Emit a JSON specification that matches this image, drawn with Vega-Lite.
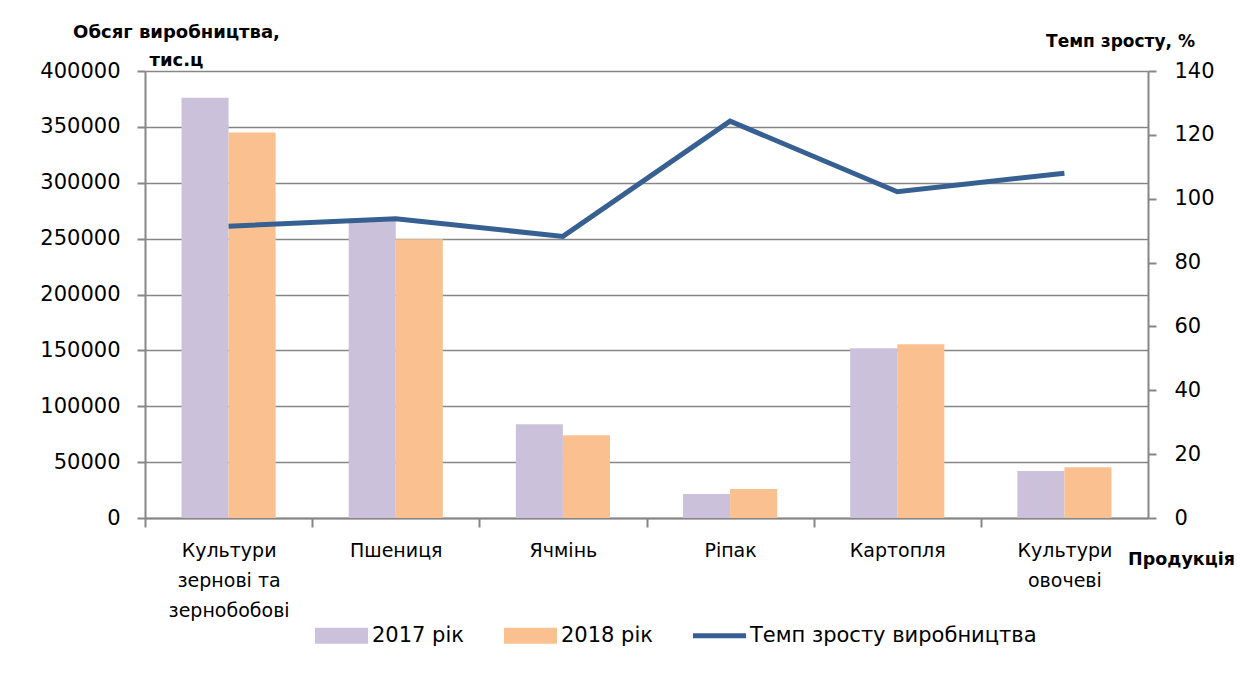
{
  "$schema": "https://vega.github.io/schema/vega-lite/v6.json",
  "width": 1003,
  "height": 447,
  "autosize": {"type": "none"},
  "padding": {"left": 145, "top": 71, "right": 102, "bottom": 159},
  "background": "white",
  "config": {
    "view": {"stroke": null},
    "font": "DejaVu Sans",
    "axis": {
      "domainColor": "#868686",
      "domainWidth": 2,
      "tickColor": "#868686",
      "tickWidth": 2,
      "gridColor": "#868686",
      "gridWidth": 1.5,
      "labelColor": "#000000",
      "titleColor": "#000000",
      "labelFont": "DejaVu Sans",
      "titleFont": "DejaVu Sans"
    }
  },
  "datasets": {
    "prod": [
      {"cat": "Культури зернові та зернобобові", "year": "2017 рік", "value": 376000},
      {"cat": "Культури зернові та зернобобові", "year": "2018 рік", "value": 345000},
      {"cat": "Пшениця", "year": "2017 рік", "value": 266000},
      {"cat": "Пшениця", "year": "2018 рік", "value": 249500},
      {"cat": "Ячмінь", "year": "2017 рік", "value": 84000},
      {"cat": "Ячмінь", "year": "2018 рік", "value": 74000},
      {"cat": "Ріпак", "year": "2017 рік", "value": 21500},
      {"cat": "Ріпак", "year": "2018 рік", "value": 26000},
      {"cat": "Картопля", "year": "2017 рік", "value": 152000},
      {"cat": "Картопля", "year": "2018 рік", "value": 155500},
      {"cat": "Культури овочеві", "year": "2017 рік", "value": 42000},
      {"cat": "Культури овочеві", "year": "2018 рік", "value": 45500}
    ],
    "rate": [
      {"cat": "Культури зернові та зернобобові", "rate": 91.4},
      {"cat": "Пшениця", "rate": 93.7},
      {"cat": "Ячмінь", "rate": 88.2},
      {"cat": "Ріпак", "rate": 124.3},
      {"cat": "Картопля", "rate": 102.2},
      {"cat": "Культури овочеві", "rate": 108.0}
    ]
  },
  "layer": [
    {
      "data": {"name": "prod"},
      "mark": {"type": "bar"},
      "encoding": {
        "x": {
          "field": "cat",
          "type": "nominal",
          "sort": null,
          "scale": {"paddingInner": 0.437, "paddingOuter": 0.2185},
          "axis": {
            "labelAngle": 0,
            "labelFontSize": 19,
            "labelBaseline": "top",
            "labelLineHeight": 30,
            "labelPadding": 14,
            "tickSize": 9,
            "bandPosition": 0,
            "tickOffset": -36.5,
            "labelOffset": 36.5,
            "labelExpr": "datum.label == 'Культури зернові та зернобобові' ? ['Культури', 'зернові та', 'зернобобові'] : datum.label == 'Культури овочеві' ? ['Культури', 'овочеві'] : datum.label",
            "title": "Продукція",
            "titleFontSize": 17.5,
            "titleFontWeight": "bold",
            "titleAlign": "center",
            "titleBaseline": "alphabetic",
            "titleX": 1036,
            "titleY": 46
          }
        },
        "xOffset": {
          "field": "year",
          "type": "nominal",
          "scale": {"paddingInner": 0, "paddingOuter": 0}
        },
        "y": {
          "field": "value",
          "type": "quantitative",
          "scale": {"domain": [0, 400000], "nice": false},
          "axis": {
            "values": [0, 50000, 100000, 150000, 200000, 250000, 300000, 350000, 400000],
            "format": "d",
            "grid": true,
            "labelFontSize": 21,
            "labelPadding": 17,
            "tickSize": 8,
            "title": ["Обсяг виробництва,", "тис.ц"],
            "titleAngle": 0,
            "titleFontSize": 18,
            "titleFontWeight": "bold",
            "titleAlign": "center",
            "titleBaseline": "alphabetic",
            "titleLineHeight": 28,
            "titleX": 31,
            "titleY": -34
          }
        },
        "color": {
          "field": "year",
          "type": "nominal",
          "scale": {
            "domain": ["2017 рік", "2018 рік", "Темп зросту виробництва"],
            "range": ["#CCC1DA", "#FAC090", "#376092"]
          },
          "legend": {
            "orient": "none",
            "legendX": 170,
            "legendY": 538,
            "direction": "horizontal",
            "title": null,
            "padding": 0,
            "labelFont": "DejaVu Sans",
            "labelFontSize": 21,
            "labelColor": "#000000",
            "labelOffset": 4,
            "labelLimit": 400,
            "columnPadding": 40,
            "symbolSize": 2809,
            "encode": {
              "symbols": {
                "update": {
                  "shape": {"signal": "datum.value === 'Темп зросту виробництва' ? 'M-1,-0.09H1V0.09H-1Z' : 'M-1,-0.3H1V0.3H-1Z'"},
                  "fill": {"scale": "color", "field": "value"},
                  "stroke": {"value": "transparent"},
                  "strokeWidth": {"value": 0},
                  "opacity": {"value": 1},
                  "fillOpacity": {"value": 1},
                  "size": {"value": 2809}
                }
              }
            }
          }
        }
      }
    },
    {
      "data": {"name": "rate"},
      "mark": {"type": "line", "strokeWidth": 5},
      "encoding": {
        "x": {"field": "cat", "type": "nominal", "sort": null},
        "y": {
          "field": "rate",
          "type": "quantitative",
          "scale": {"domain": [0, 140], "nice": false},
          "axis": {
            "orient": "right",
            "values": [0, 20, 40, 60, 80, 100, 120, 140],
            "grid": false,
            "labelFontSize": 21,
            "labelPadding": 18,
            "tickSize": 8,
            "title": "Темп зросту, %",
            "titleAngle": 0,
            "titleFontSize": 17,
            "titleFontWeight": "bold",
            "titleAlign": "center",
            "titleBaseline": "alphabetic",
            "titleX": -28,
            "titleY": -25
          }
        },
        "color": {"datum": "Темп зросту виробництва"}
      }
    }
  ],
  "resolve": {"scale": {"y": "independent"}}
}
